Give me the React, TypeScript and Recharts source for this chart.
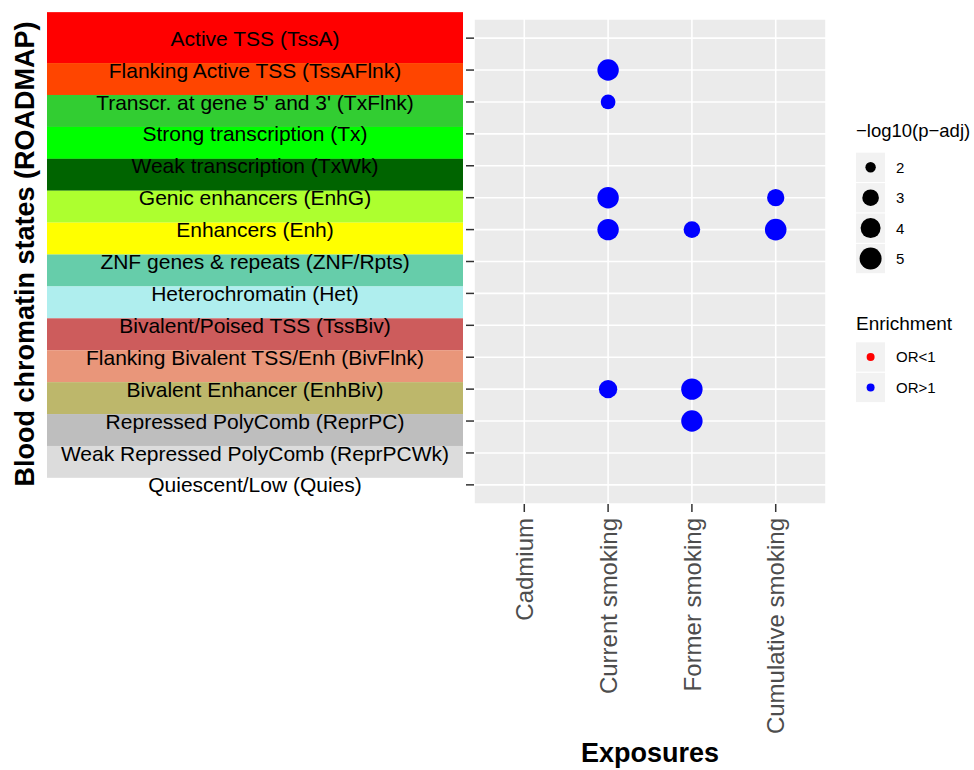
import React from 'react';
import {
  ScatterChart,
  Scatter,
  XAxis,
  YAxis,
  CartesianGrid,
  Legend,
  Label,
} from 'recharts';

// chromatin states (top to bottom)
const STATE_CODES = [
  'TssA', 'TssAFlnk', 'TxFlnk', 'Tx', 'TxWk', 'EnhG', 'Enh', 'ZNF/Rpts',
  'Het', 'TssBiv', 'BivFlnk', 'EnhBiv', 'ReprPC', 'ReprPCWk', 'Quies',
];
const STATE_LABELS = [
  'Active TSS (TssA)',
  'Flanking Active TSS (TssAFlnk)',
  "Transcr. at gene 5' and 3' (TxFlnk)",
  'Strong transcription (Tx)',
  'Weak transcription (TxWk)',
  'Genic enhancers (EnhG)',
  'Enhancers (Enh)',
  'ZNF genes & repeats (ZNF/Rpts)',
  'Heterochromatin (Het)',
  'Bivalent/Poised TSS (TssBiv)',
  'Flanking Bivalent TSS/Enh (BivFlnk)',
  'Bivalent Enhancer (EnhBiv)',
  'Repressed PolyComb (ReprPC)',
  'Weak Repressed PolyComb (ReprPCWk)',
  'Quiescent/Low (Quies)',
];
const STATE_COLORS = [
  '#ff0000', '#ff4500', '#32cd32', '#00ff00', '#006400', '#adff2f', '#ffff00',
  '#66cdaa', '#afeeee', '#cd5c5c', '#e9967a', '#bdb76b', '#bebebe', '#dcdcdc',
  '#ffffff',
];

const EXPOSURES = ['Cadmium', 'Current smoking', 'Former smoking', 'Cumulative smoking'];

// significant enrichments
const POINT_STATE = ['TssAFlnk', 'TxFlnk', 'EnhG', 'EnhG', 'Enh', 'Enh', 'Enh', 'EnhBiv', 'EnhBiv', 'ReprPC'];
const POINT_EXPOSURE = [
  'Current smoking', 'Current smoking', 'Current smoking', 'Cumulative smoking',
  'Current smoking', 'Former smoking', 'Cumulative smoking', 'Current smoking',
  'Former smoking', 'Former smoking',
];
const POINT_LOGP = [4.7, 2.7, 4.7, 3.2, 4.7, 3.0, 4.8, 3.5, 4.7, 4.7];
const POINT_ENRICH = ['OR>1', 'OR>1', 'OR>1', 'OR>1', 'OR>1', 'OR>1', 'OR>1', 'OR>1', 'OR>1', 'OR>1'];

const SIZE_BREAKS = [2, 3, 4, 5];
const SIZE_RADII = [5.2, 8.3, 10, 11];
const ENRICH_LEVELS = ['OR<1', 'OR>1'];
const ENRICH_COLORS = ['#ff0000', '#0000ff'];

const FONT = '"Liberation Sans", Arial, Helvetica, sans-serif';

const points = POINT_STATE.map((s, i) => ({
  x: EXPOSURES.indexOf(POINT_EXPOSURE[i]) + 1,
  y: STATE_CODES.indexOf(s) + 1,
  logp: POINT_LOGP[i],
  enrich: POINT_ENRICH[i],
}));

function radius(v: number) {
  if (v <= SIZE_BREAKS[0]) return SIZE_RADII[0];
  for (let i = 1; i < SIZE_BREAKS.length; i++) {
    if (v <= SIZE_BREAKS[i]) {
      const t = (v - SIZE_BREAKS[i - 1]) / (SIZE_BREAKS[i] - SIZE_BREAKS[i - 1]);
      return SIZE_RADII[i - 1] + t * (SIZE_RADII[i] - SIZE_RADII[i - 1]);
    }
  }
  return SIZE_RADII[SIZE_RADII.length - 1];
}

function StateTick(props: any) {
  const { y, payload } = props;
  const i = payload.value - 1;
  const top = i === 0 ? y - 26 : y - 7;
  const bottom = y + 25;
  return (
    <g>
      <rect x={47} y={top} width={416} height={bottom - top} fill={STATE_COLORS[i]} />
      <text x={255} y={y} dy={7.6} textAnchor="middle" fontSize={21} fill="#000" fontFamily={FONT}>
        {STATE_LABELS[i]}
      </text>
    </g>
  );
}

function ExposureTick(props: any) {
  const { x, y, payload } = props;
  return (
    <text
      transform={`translate(${x},${y}) rotate(-90)`}
      dy={8.6}
      textAnchor="end"
      fontSize={24}
      fill="#4d4d4d"
      fontFamily={FONT}
    >
      {EXPOSURES[payload.value - 1]}
    </text>
  );
}

function Dot(props: any) {
  const { cx, cy, payload } = props;
  const c = ENRICH_COLORS[ENRICH_LEVELS.indexOf(payload.enrich)];
  return <circle cx={cx} cy={cy} r={radius(payload.logp)} fill={c} />;
}

function LegendBox() {
  return (
    <svg width={118} height={290} style={{ overflow: 'visible' }}>
      <text x={0} y={17} fontSize={18.5} fill="#000" fontFamily={FONT}>
        −log10(p−adj)
      </text>
      {SIZE_BREAKS.map((b, i) => (
        <g key={b}>
          <rect x={0} y={32.7 + i * 30.4} width={29} height={29.3} fill="#f2f2f2" />
          <circle cx={14.6} cy={32.7 + i * 30.4 + 14.6} r={SIZE_RADII[i]} fill="#000" />
          <text x={40} y={32.7 + i * 30.4 + 14.6} dy={5.4} fontSize={15} fill="#000" fontFamily={FONT}>
            {b}
          </text>
        </g>
      ))}
      <text x={0} y={209.5} fontSize={19} fill="#000" fontFamily={FONT}>
        Enrichment
      </text>
      {ENRICH_LEVELS.map((lv, i) => (
        <g key={lv}>
          <rect x={0} y={222.3 + i * 30.5} width={29} height={29.3} fill="#f2f2f2" />
          <circle cx={14.6} cy={222.3 + i * 30.5 + 14.6} r={4} fill={ENRICH_COLORS[i]} />
          <text x={40} y={222.3 + i * 30.5 + 14.6} dy={5.4} fontSize={15} fill="#000" fontFamily={FONT}>
            {lv}
          </text>
        </g>
      ))}
    </svg>
  );
}

export default function App() {
  return (
    <div style={{ position: 'absolute', left: 0, top: 0, width: 974, height: 770, background: '#fff', fontFamily: FONT }}>
      <ScatterChart width={974} height={770} margin={{ top: 19, right: 148, bottom: 0, left: 0 }}>
        <CartesianGrid fill="#ebebeb" stroke="#ffffff" strokeWidth={1.6} />
        <XAxis
          type="number"
          dataKey="x"
          domain={[0.4, 4.6]}
          ticks={[1, 2, 3, 4]}
          interval={0}
          height={266}
          axisLine={false}
          tickSize={8}
          tickMargin={6}
          tickLine={{ stroke: '#333333', strokeWidth: 1.5 }}
          tick={<ExposureTick />}
        >
          <Label
            value="Exposures"
            position="insideBottom"
            offset={8}
            style={{ fontSize: 27, fontWeight: 'bold', fill: '#000', fontFamily: FONT }}
          />
        </XAxis>
        <YAxis
          type="number"
          dataKey="y"
          domain={[0.4, 15.6]}
          reversed
          ticks={STATE_CODES.map((_, i) => i + 1)}
          interval={0}
          width={474}
          axisLine={false}
          tickSize={8}
          tickLine={{ stroke: '#333333', strokeWidth: 1.5 }}
          tick={<StateTick />}
        >
          <Label
            content={() => (
              <text
                transform="translate(34,254) rotate(-90)"
                textAnchor="middle"
                fontSize={27}
                fontWeight="bold"
                fill="#000"
                fontFamily={FONT}
              >
                Blood chromatin states (ROADMAP)
              </text>
            )}
          />
        </YAxis>
        <Legend
          layout="vertical"
          align="center"
          verticalAlign="middle"
          content={() => <LegendBox />}
          wrapperStyle={{ left: 856, top: 120, width: 118, height: 290 }}
        />
        <Scatter data={points} shape={<Dot />} isAnimationActive={false} />
      </ScatterChart>
    </div>
  );
}
